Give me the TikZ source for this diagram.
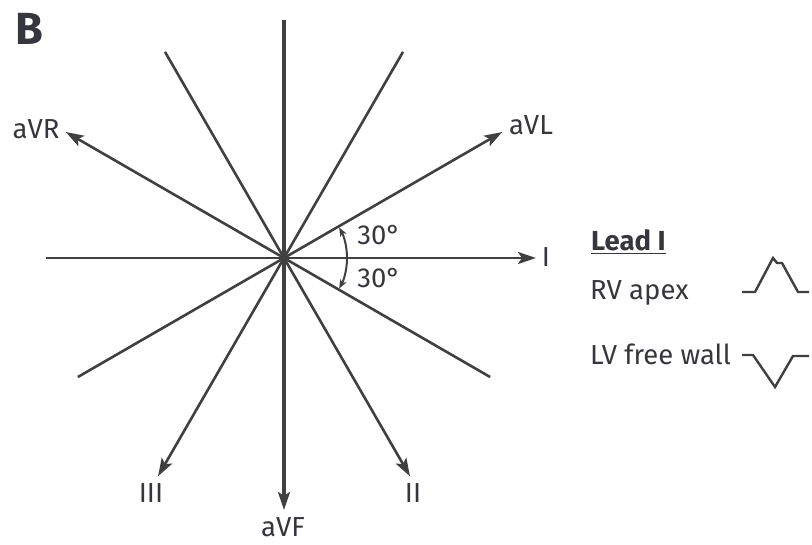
\documentclass[tikz,border=0pt]{standalone}
\usepackage{fontspec}
\setmainfont{Fira Sans}
\usetikzlibrary{arrows.meta}
\definecolor{ink}{HTML}{404040}
\definecolor{txt}{HTML}{36363E}
\begin{document}
\begin{tikzpicture}[x=1pt,y=1pt,
  axis/.style={draw=ink,line width=2.6pt},
  arrowaxis/.style={axis,-{Stealth[length=18pt,width=12pt,inset=4pt]}},
  anglearc/.style={draw=ink,line width=2pt,-{Stealth[length=9pt,width=7pt,inset=2.5pt]}},
  lbl/.style={text=txt,font=\fontsize{27.5}{32}\selectfont,inner sep=0pt,anchor=base},
  wave/.style={draw=ink,line width=2.4pt,line join=miter}]
\useasboundingbox (0,0) rectangle (812,545);
\coordinate (C) at (284,287);
% plain half-lines
\foreach \a/\n in {180/Pleft,120/Pul,60/Pur,210/Pll,330/Plr}
  {\coordinate (\n) at ([shift={(\a:238)}]C);}
\coordinate (Ptop) at ([shift={(90:238)}]C);
\foreach \a/\n in {0/TI,30/TaVL,150/TaVR,270/TaVF,300/TII,240/TIII}
  {\coordinate (\n) at ([shift={(\a:252)}]C);}
\draw[axis,line width=3.3pt] (C) -- (Ptop);
\draw[axis] (C) -- (Pleft);
\draw[axis] (C) -- (Pul);
\draw[axis] (C) -- (Pur);
\draw[axis] (C) -- (Pll);
\draw[axis] (C) -- (Plr);
\draw[arrowaxis] (C) -- (TI);
\draw[arrowaxis] (C) -- (TaVL);
\draw[arrowaxis] (C) -- (TaVR);
\draw[arrowaxis,line width=3.3pt] (C) -- (TaVF);
\draw[arrowaxis] (C) -- (TII);
\draw[arrowaxis] (C) -- (TIII);
\fill[ink] (C) circle (4pt);
% angle arcs
\coordinate (A0) at ([shift={(0:63)}]C);
\draw[anglearc] (A0) arc[start angle=0,end angle=29,radius=63];
\draw[anglearc] (A0) arc[start angle=0,end angle=-29,radius=63];
% labels
\node[lbl,font=\fontsize{45}{50}\selectfont\bfseries] (B) at (29,500) {B};
\node[lbl] (laVR) at (36,406) {aVR};
\node[lbl] (laVL) at (531,410) {aVL};
\node[lbl] (lI) at (546,278) {I};
\node[lbl] (lIII) at (151,42) {III};
\node[lbl] (lII) at (413,42) {II};
\node[lbl] (laVF) at (283,8) {aVF};
\node[lbl] (a1) at (379,300) {30°};
\node[lbl] (a2) at (379,257) {30°};
\node[lbl,anchor=base west] (lead) at (591,294) {\bfseries\underline{Lead I}};
\node[lbl,anchor=base west] (rv) at (590,245) {RV apex};
\node[lbl,anchor=base west] (lv) at (590,180) {LV free wall};
% waveforms
\draw[wave] (742,253) -- (755,253) -- (773,287) -- (777,282) -- (782,282) -- (798,253) -- (809,253);
\draw[wave] (742,190) -- (753,190) -- (775,158) -- (793,189) -- (809,189);
\end{tikzpicture}
\end{document}
